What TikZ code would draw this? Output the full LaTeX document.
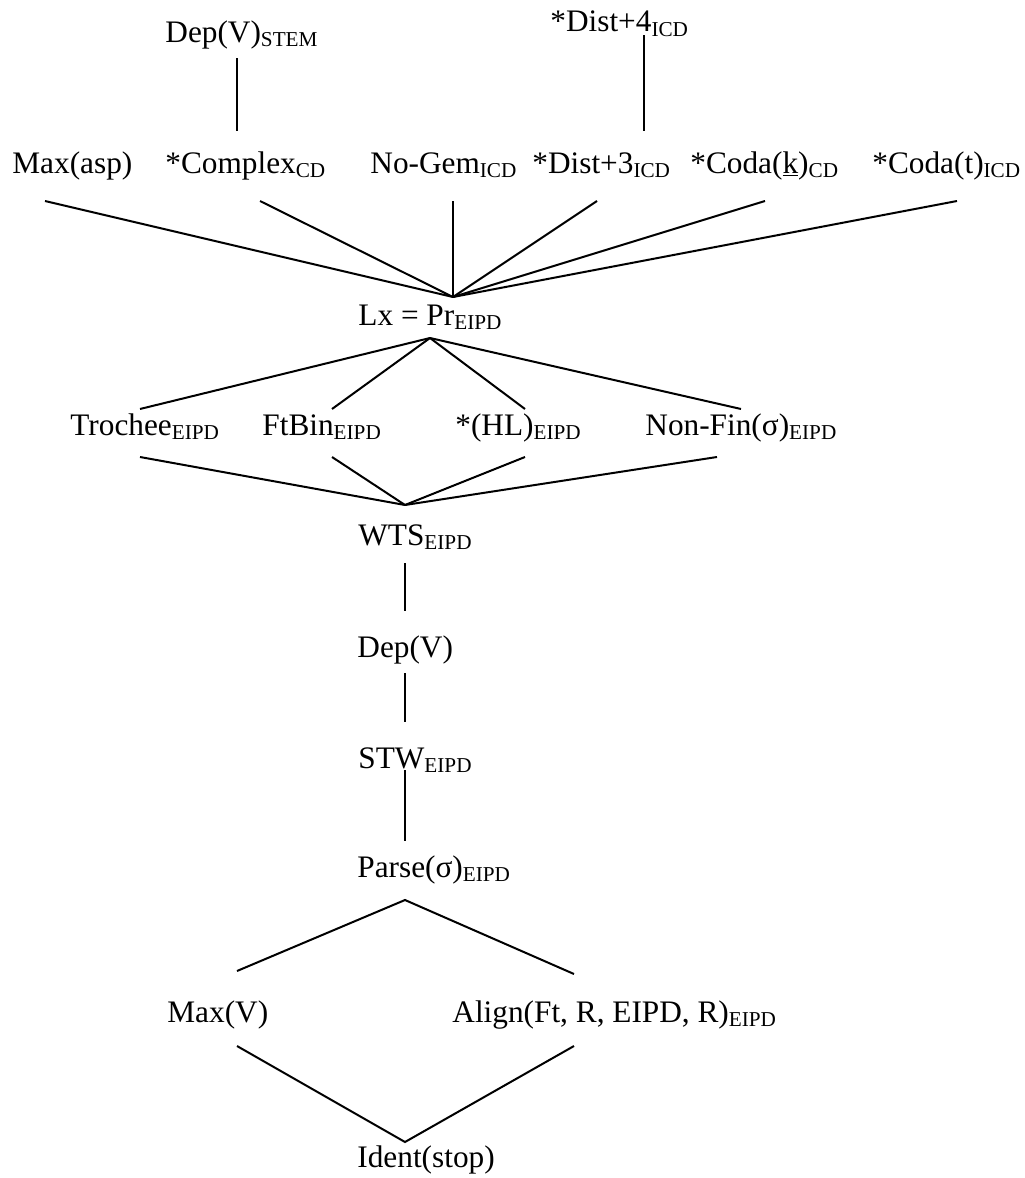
\documentclass[tikz,border=0pt]{standalone}
\usepackage{fontspec}
\setmainfont{Liberation Serif}
% smaller, slightly lowered subscript tag
\newcommand\lowtag[1]{\raisebox{-2pt}{\fontsize{10.6}{12}\selectfont #1}}
\begin{document}
\begin{tikzpicture}[x=0.5pt,y=-0.5pt,
  lbl/.style={anchor=base west, inner sep=0pt, font=\fontsize{15.65}{18}\selectfont},
  link/.style={line width=1pt, line cap=butt}]
\useasboundingbox (0,0) rectangle (1024,1178);

% ---- constraint labels ----
\node[lbl] (depstem) at (165,42)  {Dep(V)\lowtag{STEM}};
\node[lbl] (dist4)   at (550,32)  {*Dist+4\lowtag{ICD}};

\node[lbl] (maxasp)  at (12,173)  {Max(asp)};
\node[lbl] (complex) at (165,173) {*Complex\lowtag{CD}};
\node[lbl] (nogem)   at (370,173) {No-Gem\lowtag{ICD}};
\node[lbl] (dist3)   at (532,173) {*Dist+3\lowtag{ICD}};
\node[lbl] (codak)   at (690,173) {*Coda(\underline{k})\lowtag{CD}};
\node[lbl] (codat)   at (872,173) {*Coda(t)\lowtag{ICD}};

\node[lbl] (lxpr)    at (358,325) {Lx = Pr\lowtag{EIPD}};

\node[lbl] (trochee) at (70,435)  {Trochee\lowtag{EIPD}};
\node[lbl] (ftbin)   at (262,435) {FtBin\lowtag{EIPD}};
\node[lbl] (hl)      at (455,435) {*(HL)\lowtag{EIPD}};
\node[lbl] (nonfin)  at (645,435) {Non-Fin(σ)\lowtag{EIPD}};

\node[lbl] (wts)     at (358,545) {WTS\lowtag{EIPD}};
\node[lbl] (depv)    at (357,657) {Dep(V)};
\node[lbl] (stw)     at (358,768) {STW\lowtag{EIPD}};
\node[lbl] (parse)   at (357,877) {Parse(σ)\lowtag{EIPD}};

\node[lbl] (maxv)    at (167,1022) {Max(V)};
\node[lbl] (align)   at (452,1022) {Align(Ft, R, EIPD, R)\lowtag{EIPD}};
\node[lbl] (ident)   at (357,1167) {Ident(stop)};

% ---- connector end points ----
\coordinate (depstem-b) at (237,58);   \coordinate (complex-t) at (237,131);
\coordinate (dist4-b)   at (644,35);   \coordinate (dist3-t)   at (644,131);

\coordinate (maxasp-b)  at (45,201);
\coordinate (complex-b) at (260,201);
\coordinate (nogem-b)   at (453,201);
\coordinate (dist3-b)   at (597,201);
\coordinate (codak-b)   at (765,201);
\coordinate (codat-b)   at (957,201);
\coordinate (lxpr-t)    at (453,297);

\coordinate (lxpr-b)    at (430,338);
\coordinate (trochee-t) at (140,409);
\coordinate (ftbin-t)   at (332,409);
\coordinate (hl-t)      at (525,409);
\coordinate (nonfin-t)  at (741,409);

\coordinate (trochee-b) at (140,457);
\coordinate (ftbin-b)   at (332,457);
\coordinate (hl-b)      at (525,457);
\coordinate (nonfin-b)  at (717,457);
\coordinate (wts-t)     at (405,505);

\coordinate (wts-b)     at (405,563);  \coordinate (depv-t)  at (405,611);
\coordinate (depv-b)    at (405,673);  \coordinate (stw-t)   at (405,722);
\coordinate (stw-b)     at (405,770);  \coordinate (parse-t) at (405,841);

\coordinate (parse-b)   at (405,900);
\coordinate (maxv-t)    at (237,971);
\coordinate (align-t)   at (574,974);
\coordinate (maxv-b)    at (237,1046);
\coordinate (align-b)   at (574,1046);
\coordinate (ident-t)   at (405,1142);

% ---- ranking lines ----
\draw[link] (depstem-b) -- (complex-t);
\draw[link] (dist4-b) -- (dist3-t);

\foreach \c in {maxasp-b,complex-b,nogem-b,dist3-b,codak-b,codat-b}
  \draw[link] (\c) -- (lxpr-t);

\foreach \c in {trochee-t,ftbin-t,hl-t,nonfin-t}
  \draw[link] (lxpr-b) -- (\c);

\foreach \c in {trochee-b,ftbin-b,hl-b,nonfin-b}
  \draw[link] (\c) -- (wts-t);

\draw[link] (wts-b) -- (depv-t);
\draw[link] (depv-b) -- (stw-t);
\draw[link] (stw-b) -- (parse-t);

\draw[link] (maxv-t) -- (parse-b) -- (align-t);
\draw[link] (maxv-b) -- (ident-t) -- (align-b);
\end{tikzpicture}
\end{document}
